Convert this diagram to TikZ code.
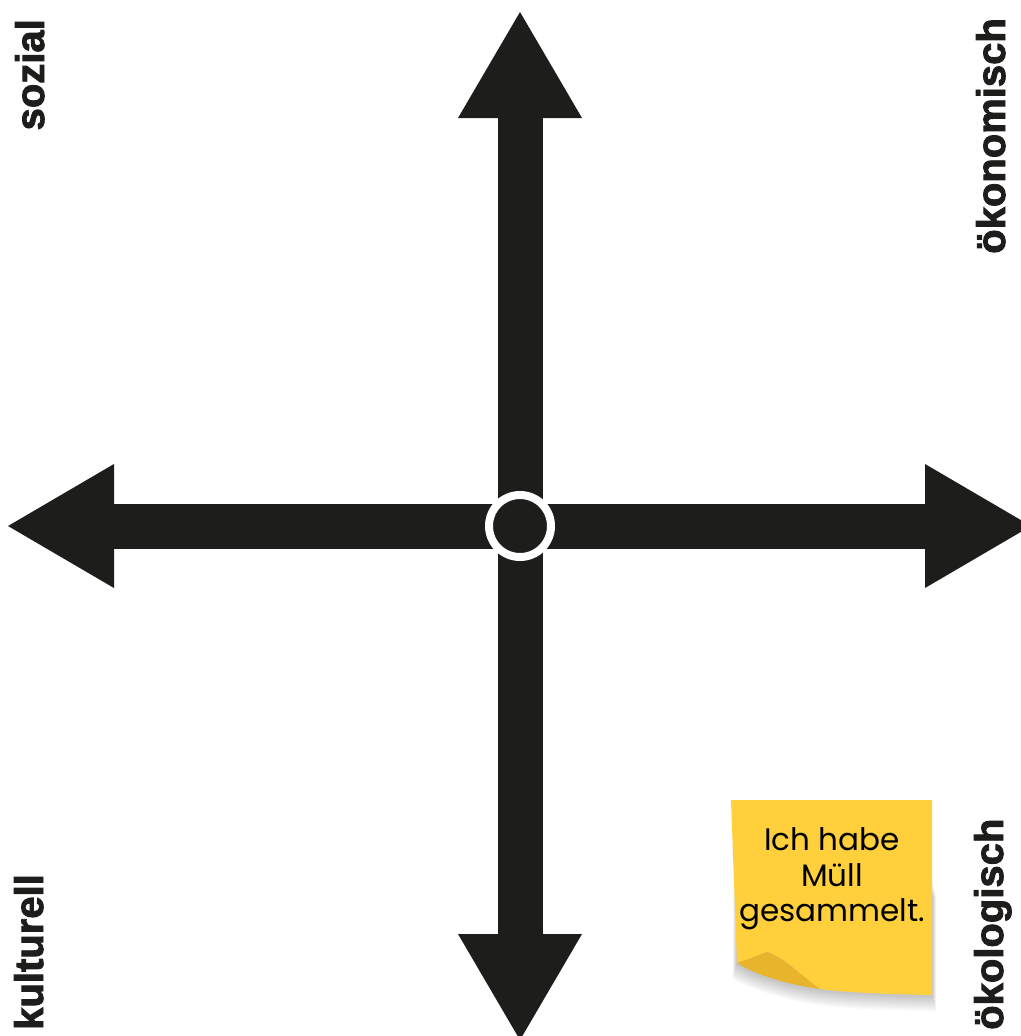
\documentclass[tikz,border=0pt]{standalone}
\usepackage{fontspec}
\setmainfont{Liberation Sans}
\newfontfamily\lblfont{Liberation Sans}[BoldFeatures={FakeBold=2.2}]
\newfontfamily\notefont{Poppins}
\usetikzlibrary{arrows.meta}
\definecolor{ink}{HTML}{1D1D1B}
\definecolor{noteyellow}{HTML}{FFD03B}
\definecolor{notefold}{HTML}{E8B42C}
\begin{document}
\begin{tikzpicture}[x=1pt,y=-1pt,
  axis/.style={draw=ink, line width=45pt, line cap=butt,
    -{Triangle[width=124pt,length=106pt,line width=0pt]}},
  lbl/.style={rotate=90, inner sep=0pt, text=ink,
    font=\lblfont\fontsize{40}{48}\selectfont\bfseries},
  notetext/.style={align=center, inner sep=0pt, text=black,
    font=\notefont\fontsize{31}{35.5}\selectfont}]
\useasboundingbox (0,0) rectangle (1020,1036);

% axes
\coordinate (c) at (520,526);
\coordinate (top) at (520,12);
\coordinate (bottom) at (520,1040);
\coordinate (left) at (8,526);
\coordinate (right) at (1031,526);
\draw[axis] (c) -- (top);
\draw[axis] (c) -- (bottom);
\draw[axis] (c) -- (left);
\draw[axis] (c) -- (right);
\node[circle, fill=ink, draw=white, line width=8pt, minimum size=62pt, inner sep=0pt] (hub) at (c) {};

% labels
\node[lbl, anchor=base east] (soz) at (44,19) {sozial};
\node[lbl, anchor=base east] (oek) at (1005,18) {ökonomisch};
\node[lbl, anchor=base west] (kul) at (43,1030) {kulturell};
\node[lbl, anchor=base west] (oko) at (1003,1030) {ökologisch};

% sticky note shadow
\foreach \d in {2,4,...,16}{
  \fill[black, opacity=0.03]
    ([shift={(-\d/4,\d)}]737,880) -- ([shift={(\d/4,\d)}]932,880) -- ([shift={(\d/4,\d)}]932,995)
    .. controls ([shift={(0,\d)}]880,994) and ([shift={(0,\d)}]840,992) .. ([shift={(0,\d)}]820,989)
    .. controls ([shift={(0,\d)}]790,985) and ([shift={(0,\d)}]755,975) .. ([shift={(-\d/4,\d)}]737,963) -- cycle;
}
% sticky note
\fill[noteyellow] (731,800) -- (932,800) -- (932,995)
  .. controls (880,994) and (840,992) .. (820,989)
  .. controls (800,975) and (785,958) .. (767,952)
  .. controls (757,956) and (746,960) .. (737,963) -- cycle;
\fill[notefold] (737,963)
  .. controls (746,960) and (757,956) .. (767,952)
  .. controls (785,958) and (800,975) .. (820,989)
  .. controls (790,985) and (755,975) .. (737,963) -- cycle;
\node[notetext] (note) at (832,879) {Ich habe\\Müll\\gesammelt.};
\end{tikzpicture}
\end{document}
